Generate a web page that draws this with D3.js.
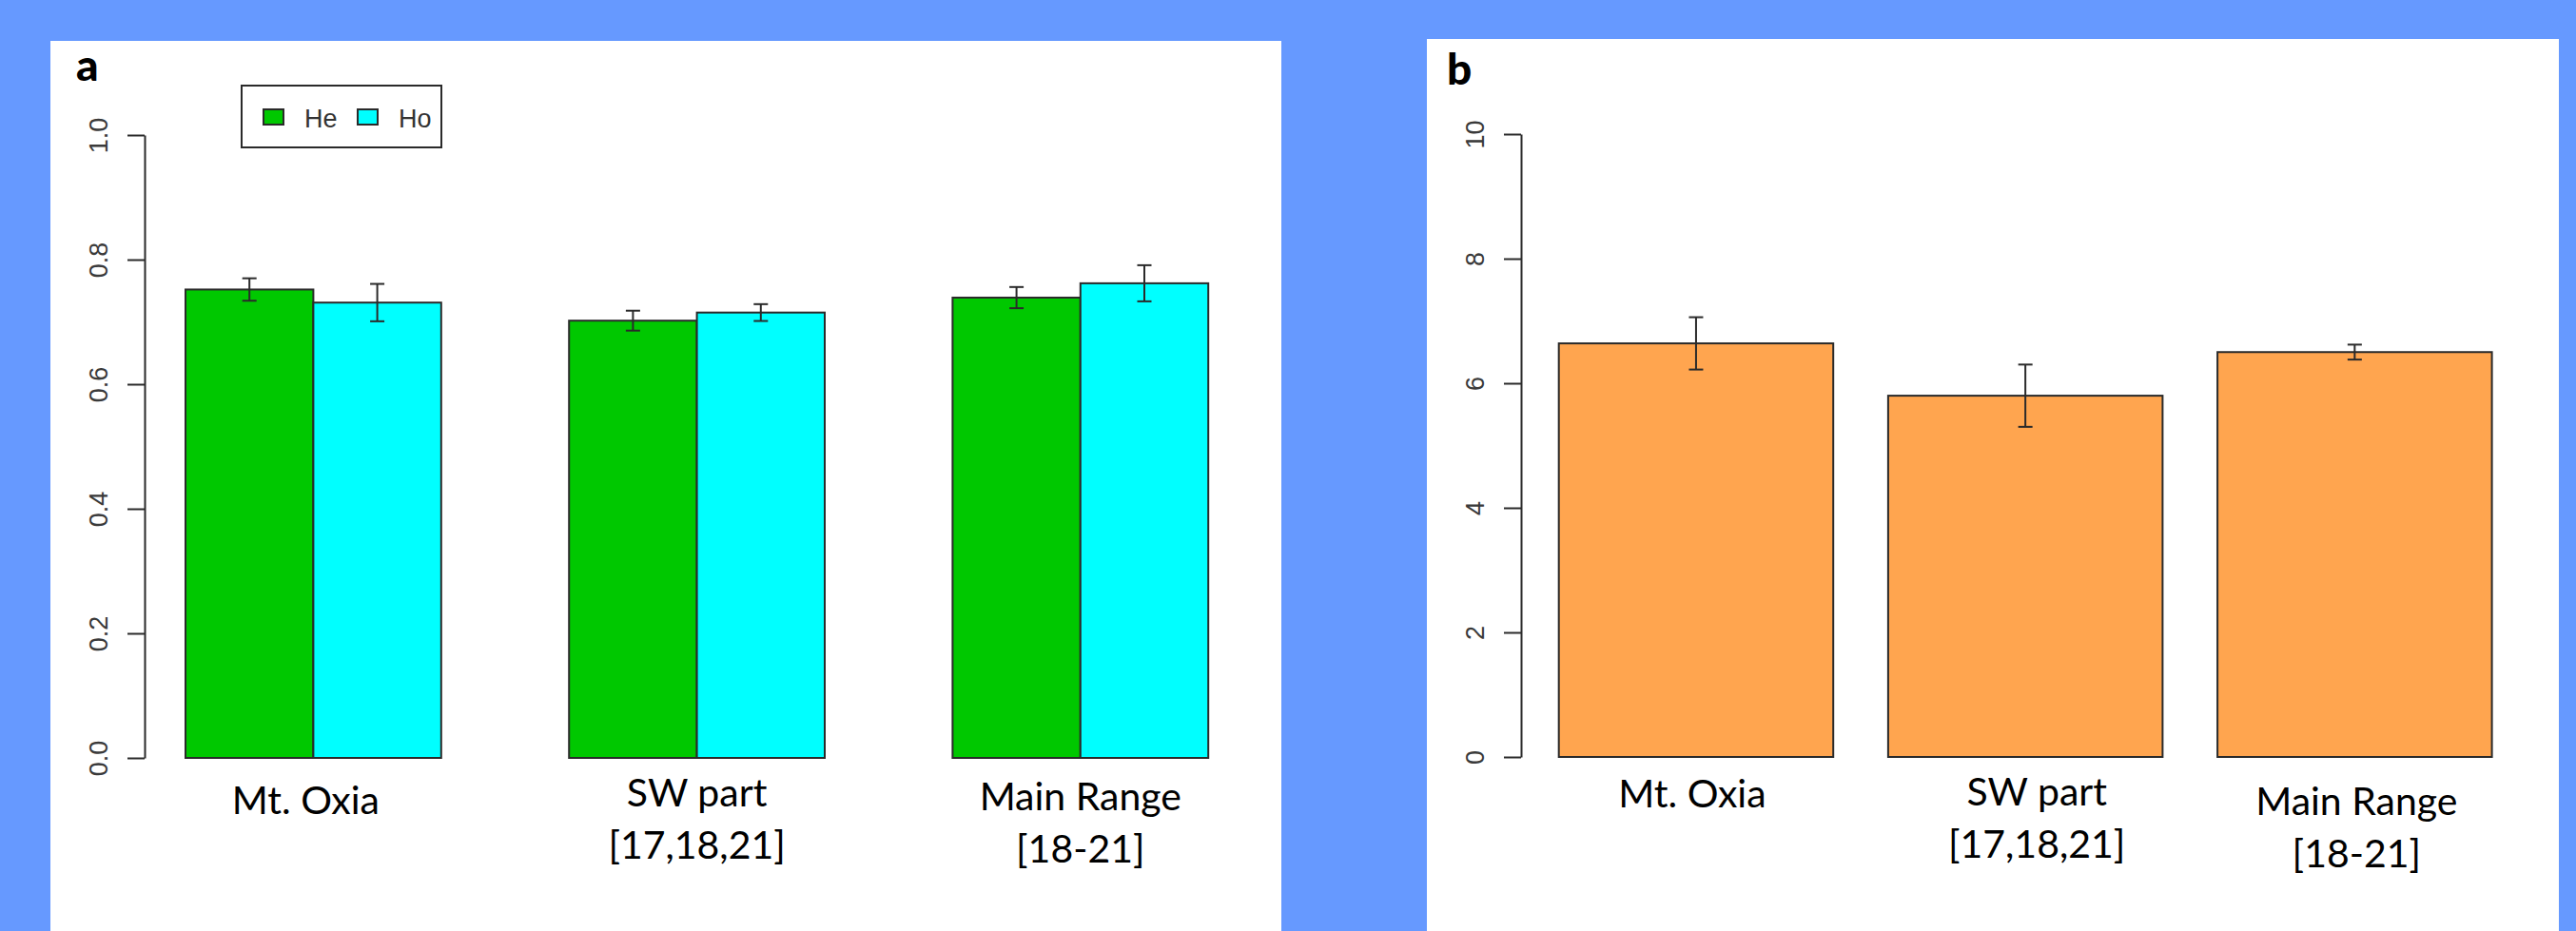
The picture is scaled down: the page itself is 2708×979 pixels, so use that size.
<!DOCTYPE html>
<html>
<head>
<meta charset="utf-8">
<script src="https://cdn.jsdelivr.net/npm/d3@7"></script>
<style>
  html, body { margin: 0; padding: 0; background: #6699FF; }
  svg { display: block; }
</style>
</head>
<body>
<svg id="chart" width="2708" height="979"></svg>
<script>
// ---------- DATA ----------
const regions = ["Mt. Oxia", "SW part", "Main Range"];
const regionSub = ["", "[17,18,21]", "[18-21]"];
const seriesA = ["He", "Ho"];
const heMean = [0.752, 0.702, 0.739];
const heErr  = [0.018, 0.016, 0.017];
const hoMean = [0.731, 0.715, 0.762];
const hoErr  = [0.030, 0.0135, 0.029];
const ticksA = [0, 0.2, 0.4, 0.6, 0.8, 1.0];

const arMean = [6.64, 5.80, 6.50];
const arErr  = [0.42, 0.50, 0.12];
const ticksB = [0, 2, 4, 6, 8, 10];

// ---------- STYLE ----------
const colHe = "#00C800", colHo = "#00FFFF", colAr = "#FFA54F";
const ink = "#2a2a2a";
const labelFont = "Lato, 'Open Sans', sans-serif";
const axisFont = "'Liberation Sans', Arial, sans-serif";

const svg = d3.select("#chart");

// panels
svg.append("rect").attr("x", 53).attr("y", 43).attr("width", 1294).attr("height", 936).attr("fill", "#fff");
svg.append("rect").attr("x", 1500).attr("y", 41).attr("width", 1190).attr("height", 938).attr("fill", "#fff");

svg.append("text").attr("x", 80).attr("y", 85).text("a")
  .attr("font-family", labelFont).attr("font-weight", 900).attr("font-size", 46).attr("fill", "#000");
svg.append("text").attr("x", 1521).attr("y", 89).text("b")
  .attr("font-family", labelFont).attr("font-weight", 900).attr("font-size", 46).attr("fill", "#000");

function yAxis(g, scale, ticks, fmt) {
  const ax = d3.axisLeft(scale).tickValues(ticks).tickSize(18).tickFormat(fmt).tickSizeOuter(0);
  g.call(ax);
  g.select(".domain").attr("stroke", ink).attr("stroke-width", 2);
  g.selectAll(".tick line").attr("stroke", ink).attr("stroke-width", 2);
  g.selectAll(".tick text")
    .attr("font-family", axisFont).attr("font-size", 27).attr("fill", "#3a3a3a")
    .attr("text-anchor", "middle").attr("x", null).attr("dy", null)
    .attr("transform", "translate(-39,0) rotate(-90)");
}

function errBars(g, data, xc, ys, cap) {
  const e = g.selectAll(null).data(data).enter().append("g")
    .attr("stroke", ink).attr("stroke-width", 2);
  e.append("line").attr("x1", d => xc(d)).attr("x2", d => xc(d))
    .attr("y1", d => ys(d.m + d.e)).attr("y2", d => ys(d.m - d.e));
  e.append("line").attr("x1", d => xc(d) - cap).attr("x2", d => xc(d) + cap)
    .attr("y1", d => ys(d.m + d.e)).attr("y2", d => ys(d.m + d.e));
  e.append("line").attr("x1", d => xc(d) - cap).attr("x2", d => xc(d) + cap)
    .attr("y1", d => ys(d.m - d.e)).attr("y2", d => ys(d.m - d.e));
}

function catLabels(g, centers, nudges) {
  regions.forEach((r, i) => {
    const t = g.append("text").attr("text-anchor", "middle")
      .attr("font-family", labelFont).attr("font-size", 41).attr("fill", "#000");
    t.append("tspan").attr("x", centers[i]).attr("y", 852 + nudges[i]).text(r);
    if (regionSub[i]) t.append("tspan").attr("x", centers[i]).attr("y", 907 + nudges[i]).text(regionSub[i]);
  });
}

// ---------- PANEL A ----------
const xA = d3.scaleLinear().domain([0, 10]).range([60.6, 60.6 + 1344]);
const yA = d3.scaleLinear().domain([0, 1]).range([797, 142]);
const gA = svg.append("g");
const barsA = [];
regions.forEach((r, i) => {
  barsA.push({ g: i, j: 0, m: heMean[i], e: heErr[i], c: colHe });
  barsA.push({ g: i, j: 1, m: hoMean[i], e: hoErr[i], c: colHo });
});
const leftA = d => 1 + 3 * d.g + d.j;
gA.selectAll("rect.bar").data(barsA).enter().append("rect")
  .attr("x", d => xA(leftA(d))).attr("width", d => xA(leftA(d) + 1) - xA(leftA(d)))
  .attr("y", d => yA(d.m)).attr("height", d => yA(0) - yA(d.m))
  .attr("fill", d => d.c).attr("stroke", ink).attr("stroke-width", 2);
errBars(gA, barsA, d => xA(leftA(d) + 0.5), yA, 7.5);
yAxis(gA.append("g").attr("transform", "translate(152,0)"), yA, ticksA, d3.format(".1f"));
catLabels(gA, regions.map((r, i) => xA(2 + 3 * i) - (i === 0 ? 8 : 0)), [4, -4, 0]);

// legend
const lg = gA.append("g");
lg.append("rect").attr("x", 254).attr("y", 90).attr("width", 210).attr("height", 65)
  .attr("fill", "#fff").attr("stroke", ink).attr("stroke-width", 2);
seriesA.forEach((s, i) => {
  const x0 = 277 + i * 99;
  lg.append("rect").attr("x", x0).attr("y", 115).attr("width", 21).attr("height", 16)
    .attr("fill", i === 0 ? colHe : colHo).attr("stroke", ink).attr("stroke-width", 2);
  lg.append("text").attr("x", x0 + 43).attr("y", 134).text(s)
    .attr("font-family", axisFont).attr("font-size", 27).attr("fill", "#333");
});

// ---------- PANEL B ----------
const xB = d3.scaleLinear().domain([0, 1]).range([1581, 1581 + 288.5]);
const yB = d3.scaleLinear().domain([0, 10]).range([796, 141]);
const gB = svg.append("g");
const barsB = regions.map((r, i) => ({ i, m: arMean[i], e: arErr[i] }));
const leftB = d => 0.2 + 1.2 * d.i;
gB.selectAll("rect.bar").data(barsB).enter().append("rect")
  .attr("x", d => xB(leftB(d))).attr("width", d => xB(leftB(d) + 1) - xB(leftB(d)))
  .attr("y", d => yB(d.m)).attr("height", d => yB(0) - yB(d.m))
  .attr("fill", colAr).attr("stroke", ink).attr("stroke-width", 2);
errBars(gB, barsB, d => xB(leftB(d) + 0.5), yB, 7.5);
yAxis(gB.append("g").attr("transform", "translate(1599,0)"), yB, ticksB, d3.format("d"));
catLabels(gB, barsB.map(d => xB(leftB(d) + 0.5) + (d.i === 0 ? -4 : d.i === 1 ? 12 : 2)), [-3, -5, 5]);
</script>
</body>
</html>
